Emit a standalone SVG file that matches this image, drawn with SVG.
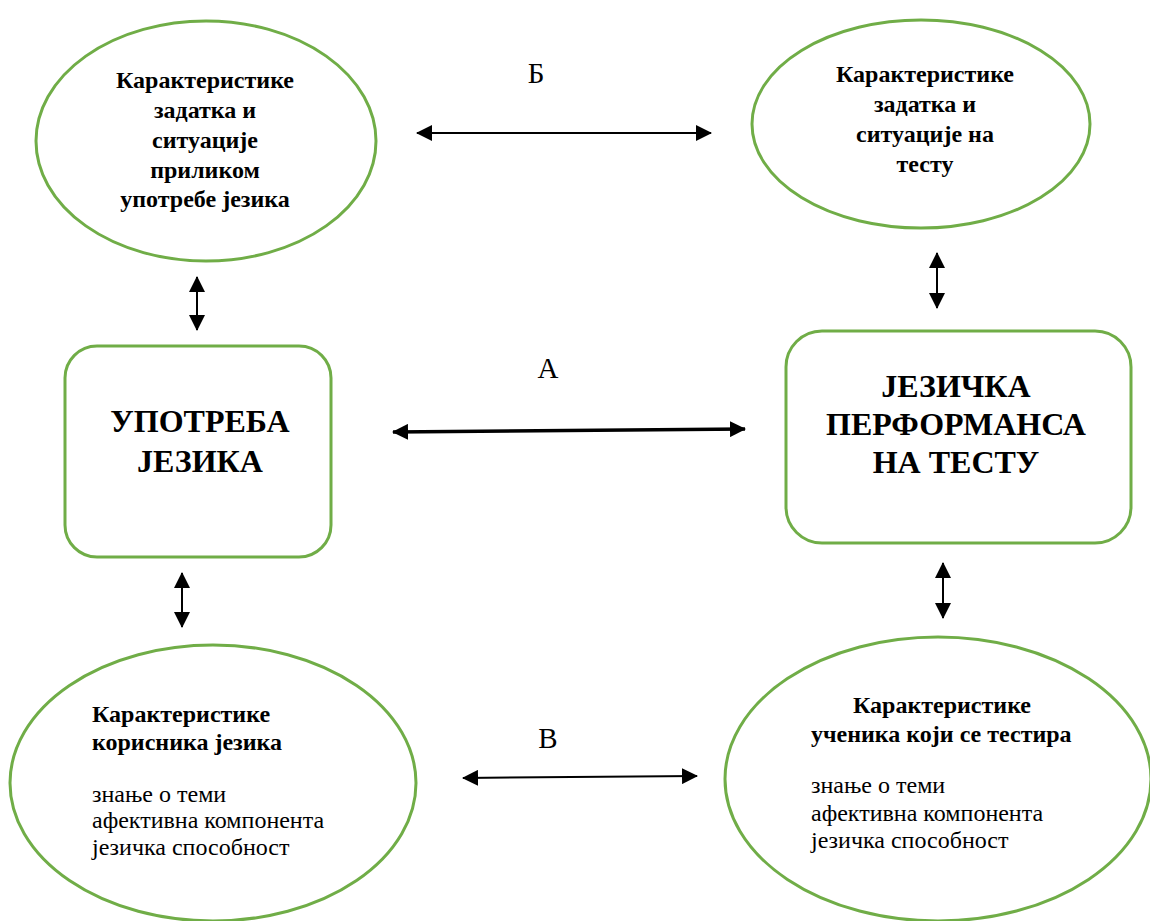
<svg xmlns="http://www.w3.org/2000/svg" width="1150" height="921" viewBox="0 0 1150 921">
<defs>
<style>
.shape{fill:#fff;stroke:#70AD47;stroke-width:3}
.b{font-weight:bold;font-size:24px;fill:#000}
.r{font-size:24px;fill:#000}
.big{font-weight:bold;font-size:32px;fill:#000}
.lbl{font-size:29px;fill:#000}
.c{text-anchor:middle}
.con{stroke:#000;stroke-width:2;fill:none;marker-start:url(#ah);marker-end:url(#ah)}
.thick{stroke-width:3.5}
</style>
<marker id="ah" markerUnits="userSpaceOnUse" viewBox="0 0 16 16" markerWidth="16" markerHeight="16" refX="15" refY="8" orient="auto-start-reverse">
<path d="M0,0 L16,8 L0,16 Z" fill="#000"/>
</marker>
</defs>
<rect width="1150" height="921" fill="#fff"/>
<g font-family="Liberation Serif, Times New Roman, serif">
<g id="node-task-use">
<ellipse class="shape" cx="206" cy="141" rx="170" ry="120"/>
<text class="b c" x="205" y="88">Карактеристике</text>
<text class="b c" x="205" y="118">задатка и</text>
<text class="b c" x="205" y="148">ситуације</text>
<text class="b c" x="205" y="178">приликом</text>
<text class="b c" x="205" y="207">употребе језика</text>
</g>
<g id="node-task-test">
<ellipse class="shape" cx="921" cy="124" rx="169" ry="104"/>
<text class="b c" x="925" y="82">Карактеристике</text>
<text class="b c" x="925" y="112">задатка и</text>
<text class="b c" x="925" y="142">ситуације на</text>
<text class="b c" x="925" y="172">тесту</text>
</g>
<g id="node-use">
<rect class="shape" x="65" y="346" width="266" height="211" rx="32"/>
<text class="big c" x="200" y="432">УПОТРЕБА</text>
<text class="big c" x="200" y="472">ЈЕЗИКА</text>
</g>
<g id="node-performance">
<rect class="shape" x="786" y="331" width="345" height="212" rx="36"/>
<text class="big c" x="956" y="397">ЈЕЗИЧКА</text>
<text class="big c" x="956" y="435">ПЕРФОРМАНСА</text>
<text class="big c" x="956" y="473">НА ТЕСТУ</text>
</g>
<g id="node-user">
<ellipse class="shape" cx="213" cy="783" rx="203" ry="138"/>
<text class="b" x="92" y="722">Карактеристике</text>
<text class="b" x="92" y="750">корисника језика</text>
<text class="r" x="92" y="802">знање о теми</text>
<text class="r" x="92" y="828">афективна компонента</text>
<text class="r" x="92" y="855">језичка способност</text>
</g>
<g id="node-student">
<ellipse class="shape" cx="938" cy="779" rx="213" ry="142"/>
<text class="b c" x="942" y="713">Карактеристике</text>
<text class="b" x="811" y="742">ученика који се тестира</text>
<text class="r" x="811" y="793">знање о теми</text>
<text class="r" x="811" y="821">афективна компонента</text>
<text class="r" x="811" y="848">језичка способност</text>
</g>
<g id="connectors">
<line class="con" x1="417" y1="133" x2="711" y2="133"/>
<line class="con" x1="197" y1="277" x2="197" y2="330"/>
<line class="con thick" x1="393" y1="432" x2="745" y2="429"/>
<line class="con" x1="937" y1="253" x2="937" y2="308"/>
<line class="con" x1="182" y1="573" x2="182" y2="627"/>
<line class="con" x1="943" y1="563" x2="943" y2="618"/>
<line class="con" x1="463" y1="778" x2="697" y2="776"/>
<text class="lbl" x="536" y="83" text-anchor="middle">Б</text>
<text class="lbl" x="548" y="378" text-anchor="middle">А</text>
<text class="lbl" x="548" y="748" text-anchor="middle">В</text>
</g>
</g>
</svg>
